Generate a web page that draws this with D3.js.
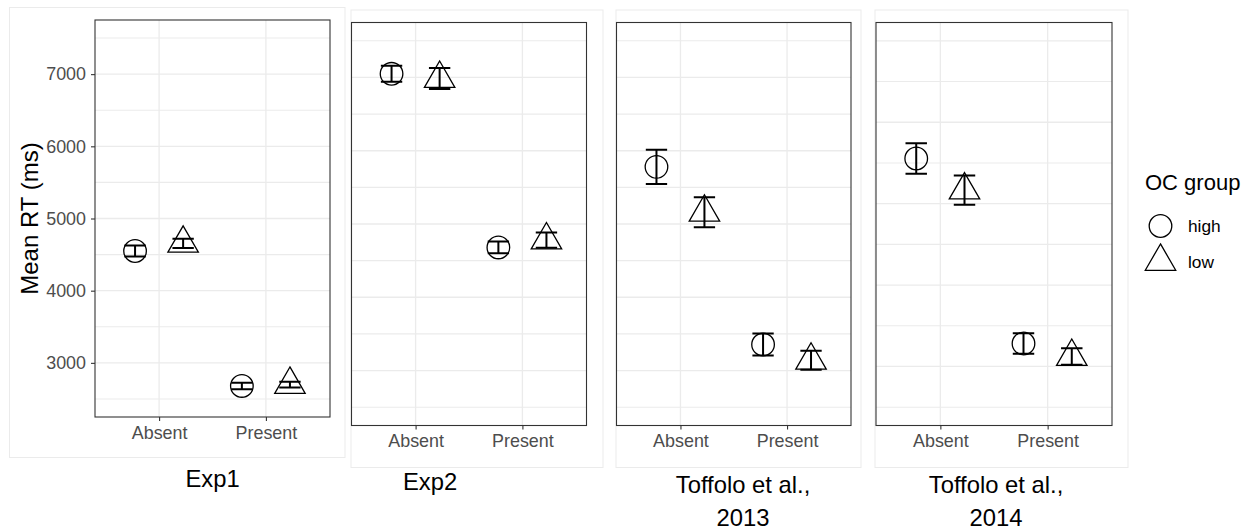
<!DOCTYPE html>
<html>
<head>
<meta charset="utf-8">
<script src="https://cdn.jsdelivr.net/npm/d3@7/dist/d3.min.js"></script>
<style>
  html, body { margin: 0; padding: 0; background: #ffffff; }
  svg { display: block; font-family: "Liberation Sans", Arial, sans-serif; }
  .tick text { font-family: "Liberation Sans", Arial, sans-serif; font-size: 17.9px; fill: #4d4d4d; }
</style>
</head>
<body>
<svg id="chart" width="1259" height="531"></svg>
<script>
// Mean RT (ms) by target condition and OC group, one panel per study
const conditions = ["Absent", "Present"];
const groups = ["high", "low"];
const panelTitles = [["Exp1"], ["Exp2"], ["Toffolo et al.,", "2013"], ["Toffolo et al.,", "2014"]];

// per panel: [Absent, Present]
const meanHigh = [[4550, 2680], [7050, 4680], [5780, 3355], [5555, 3282]];
const errHigh  = [[75, 45], [110, 80], [235, 150], [188, 127]];
const meanLow  = [[4655, 2700], [6985, 4780], [5160, 3140], [5166, 3122]];
const errLow   = [[65, 40], [143, 105], [205, 130], [180, 102]];

const yLimits = [[2500, 7500], [2500, 7500], [2500, 7500], [2500, 7000]];
const yTickLabels = [3000, 4000, 5000, 6000, 7000];
const legendTitle = "OC group";
const yTitle = "Mean RT (ms)";

// layout of each sub-plot: panel rect, background rect, caption position
const layout = [
  { x0: 95,    x1: 330,  y0: 20,   y1: 417,   bg: [9.5, 7.5, 345, 457.5],  capX: 212.5, capY: 487, yAxis: true },
  { x0: 351.5, x1: 586.5, y0: 22.5, y1: 425.5, bg: [351, 10, 603, 467.5],  capX: 430,   capY: 490, yAxis: false },
  { x0: 616.5, x1: 851,  y0: 22.5, y1: 425.5, bg: [616, 10, 861, 467.5],   capX: 743,   capY: 493, yAxis: false },
  { x0: 876,   x1: 1112, y0: 22.5, y1: 425.5, bg: [875, 10, 1128, 467.5],  capX: 996,   capY: 493, yAxis: false }
];

const svg = d3.select("#chart");
const R = 11.3;                                 // circle radius
const TR = R * Math.sqrt(4 * Math.PI / (3 * Math.sqrt(3)));  // triangle apex distance

function trianglePath(cx, cy) {
  const xc = TR * Math.sqrt(3) / 2, yc = TR / 2;
  return `M${cx},${cy - TR}L${cx + xc},${cy + yc}L${cx - xc},${cy + yc}Z`;
}

layout.forEach((L, i) => {
  const [lo, hi] = yLimits[i];
  const pad = (hi - lo) * 0.05;
  const y = d3.scaleLinear().domain([lo - pad, hi + pad]).range([L.y1, L.y0]);
  const x = d3.scalePoint().domain(conditions).range([L.x0, L.x1]).padding(0.6);
  const step = x.step();
  const dodge = { high: -0.225 * step, low: 0.225 * step };
  const g = svg.append("g");

  // sub-plot background frame
  g.append("rect")
    .attr("x", L.bg[0]).attr("y", L.bg[1])
    .attr("width", L.bg[2] - L.bg[0]).attr("height", L.bg[3] - L.bg[1])
    .attr("fill", "#ffffff").attr("stroke", "#ebebeb").attr("stroke-width", 1);

  // grid lines (every 500 ms) and category lines
  const gridVals = d3.range(lo, hi + 1, 500);
  g.selectAll(".gy").data(gridVals).join("line")
    .attr("x1", L.x0).attr("x2", L.x1)
    .attr("y1", d => y(d)).attr("y2", d => y(d))
    .attr("stroke", "#ebebeb").attr("stroke-width", d => d % 1000 === 0 ? 1.3 : 1.1);
  g.selectAll(".gx").data(conditions).join("line")
    .attr("x1", d => x(d)).attr("x2", d => x(d))
    .attr("y1", L.y0).attr("y2", L.y1)
    .attr("stroke", "#ebebeb").attr("stroke-width", 1.3);

  // points and error bars
  const rows = [];
  conditions.forEach((c, j) => {
    rows.push({ c, grp: "high", m: meanHigh[i][j], e: errHigh[i][j] });
    rows.push({ c, grp: "low",  m: meanLow[i][j],  e: errLow[i][j] });
  });
  const hw = 0.1 * step;
  rows.forEach(r => {
    const cx = x(r.c) + dodge[r.grp];
    const cy = y(r.m);
    if (r.grp === "high") {
      g.append("circle").attr("cx", cx).attr("cy", cy).attr("r", R)
        .attr("fill", "none").attr("stroke", "#000").attr("stroke-width", 1.3);
    } else {
      g.append("path").attr("d", trianglePath(cx, cy))
        .attr("fill", "none").attr("stroke", "#000").attr("stroke-width", 1.3)
        .attr("stroke-linejoin", "miter");
    }
    const yt = y(r.m + r.e), yb = y(r.m - r.e);
    g.append("path")
      .attr("d", `M${cx - hw},${yt}H${cx + hw}M${cx},${yt}V${yb}M${cx - hw},${yb}H${cx + hw}`)
      .attr("fill", "none").attr("stroke", "#000").attr("stroke-width", 2);
  });

  // panel border
  g.append("rect")
    .attr("x", L.x0).attr("y", L.y0)
    .attr("width", L.x1 - L.x0).attr("height", L.y1 - L.y0)
    .attr("fill", "none").attr("stroke", "#333333").attr("stroke-width", 1.1);

  // x axis
  const xAxis = d3.axisBottom(x).tickSize(4).tickPadding(5);
  const xa = g.append("g").attr("transform", `translate(0,${L.y1})`).call(xAxis)
    .attr("font-size", null).attr("font-family", null);
  xa.select(".domain").remove();
  xa.selectAll(".tick line").attr("stroke", "#333333").attr("stroke-width", 1.1);
  xa.selectAll(".tick text").attr("fill", "#4d4d4d").attr("dy", "0.71em");

  // y axis on the first panel only
  if (L.yAxis) {
    const yAxis = d3.axisLeft(y).tickValues(yTickLabels).tickFormat(d3.format("d"))
      .tickSize(4).tickPadding(5);
    const ya = g.append("g").attr("transform", `translate(${L.x0},0)`).call(yAxis)
      .attr("font-size", null).attr("font-family", null);
    ya.select(".domain").remove();
    ya.selectAll(".tick line").attr("stroke", "#333333").attr("stroke-width", 1.1);
    ya.selectAll(".tick text").attr("fill", "#4d4d4d");
    g.append("text")
      .attr("transform", `translate(38,${(L.y0 + L.y1) / 2}) rotate(-90)`)
      .attr("text-anchor", "middle").attr("font-size", 24).attr("fill", "#000")
      .text(yTitle);
  }

  // caption under each panel
  const cap = g.append("text").attr("text-anchor", "middle")
    .attr("font-size", 23.8).attr("fill", "#000");
  panelTitles[i].forEach((t, k) => {
    cap.append("tspan").attr("x", L.capX).attr("y", L.capY + k * 33).text(t);
  });
});

// legend
const leg = svg.append("g");
leg.append("text").attr("x", 1145).attr("y", 190).attr("font-size", 22).attr("fill", "#000").text(legendTitle);
groups.forEach((grp, k) => {
  const cy = 226 + k * 35.5;
  if (grp === "high") {
    leg.append("circle").attr("cx", 1160.5).attr("cy", cy).attr("r", R)
      .attr("fill", "none").attr("stroke", "#000").attr("stroke-width", 1.3);
  } else {
    leg.append("path").attr("d", trianglePath(1160.5, cy))
      .attr("fill", "none").attr("stroke", "#000").attr("stroke-width", 1.3);
  }
  leg.append("text").attr("x", 1188).attr("y", cy + 6).attr("font-size", 17.3)
    .attr("fill", "#000").text(grp);
});
</script>
</body>
</html>
